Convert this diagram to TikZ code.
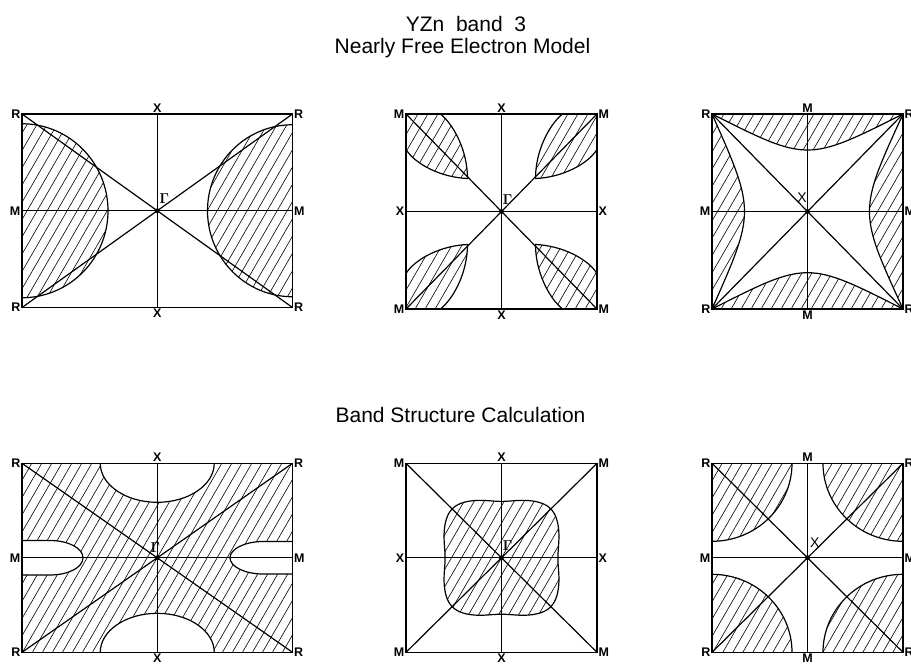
\documentclass[tikz,border=0pt]{standalone}
\usepackage[no-math]{fontspec}
\setmainfont{Liberation Sans}

% named corners, edge midpoints and centre of one zone panel
\newcommand{\bzcoords}[5]{%
  \coordinate (#1-nw) at (#2,#3);
  \coordinate (#1-ne) at (#4,#3);
  \coordinate (#1-sw) at (#2,#5);
  \coordinate (#1-se) at (#4,#5);
  \coordinate (#1-n) at ({(#2+#4)/2},#3);
  \coordinate (#1-s) at ({(#2+#4)/2},#5);
  \coordinate (#1-w) at (#2,{(#3+#5)/2});
  \coordinate (#1-e) at (#4,{(#3+#5)/2});
  \coordinate (#1-c) at ({(#2+#4)/2},{(#3+#5)/2});
}
% frame, cross and diagonals
\newcommand{\bzlines}[1]{%
  \draw[bzframe] (#1-nw) rectangle (#1-se);
  \draw[bzline] (#1-n) -- (#1-s);
  \draw[bzline] (#1-w) -- (#1-e);
  \draw[bzline] (#1-nw) -- (#1-se);
  \draw[bzline] (#1-ne) -- (#1-sw);
  \fill (#1-c) circle [radius=2.4pt];
}
% symmetry point labels
\newcommand{\bzlabels}[6]{%
  \node[bzlabel, anchor=east] (#1-lnw) at (#1-nw) {#2};
  \node[bzlabel, anchor=west] (#1-lne) at (#1-ne) {#2};
  \node[bzlabel, anchor=east] (#1-lsw) at (#1-sw) {#2};
  \node[bzlabel, anchor=west] (#1-lse) at (#1-se) {#2};
  \node[bzlabel, anchor=south] (#1-ln) at (#1-n) {#3};
  \node[bzlabel, anchor=north] (#1-ls) at (#1-s) {#3};
  \node[bzlabel, anchor=east] (#1-lw) at (#1-w) {#4};
  \node[bzlabel, anchor=west] (#1-le) at (#1-e) {#4};
  \node[bzmark, #6] (#1-lc) at (#1-c) {#5};
}
% 60 degree hatching inside a clip path
\newcommand{\hatchfill}[3]{%
  \begin{scope}
    \clip #3;
    \foreach \k in {-22,...,22}
      \draw[hatch] ({#1+10*\k-70},{#2+121}) -- ({#1+10*\k+70},{#2-121});
  \end{scope}
}
% one lens of the middle top panel
\newcommand{\bzlens}[2]{%
  ({501.5-95.5*(#1)},{211.5-97.5*(#2)}) -- ({501.5-61*(#1)},{211.5-97.5*(#2)})
  .. controls ({501.5-47*(#1)},{211.5-86*(#2)}) and ({501.5-34*(#1)},{211.5-60*(#2)})
  .. ({501.5-34*(#1)},{211.5-33*(#2)})
  .. controls ({501.5-60*(#1)},{211.5-34*(#2)}) and ({501.5-86*(#1)},{211.5-47*(#2)})
  .. ({501.5-95.5*(#1)},{211.5-62*(#2)}) -- cycle}

\begin{document}
\begin{tikzpicture}[x=1pt, y=-1pt,
    bzframe/.style={line width=1.5pt},
    bzline/.style={line width=1.2pt},
    bzcurve/.style={line width=1.2pt},
    hatch/.style={line width=0.6pt},
    bzlabel/.style={font=\fontsize{12.5}{12.5}\selectfont\bfseries, inner sep=1.5pt},
    bzmark/.style={font=\fontsize{14}{14}\selectfont, inner sep=0pt},
    title/.style={font=\fontsize{21}{21}\selectfont, inner sep=0pt},
    declare function={bzr(\t)=57/(abs(cos(\t))^5+abs(sin(\t))^5)^0.2*(1-0.01*cos(8*\t));}
]
    \useasboundingbox (0,0) rectangle (911,665);

    \node[title, anchor=base] (head) at (466,31.5) {YZn~~band~~3};
    \node[title, anchor=base] (nfe) at (462.5,53) {Nearly Free Electron Model};
    \node[title, anchor=base] (bsc) at (460.5,422.3) {Band Structure Calculation};

    \bzcoords{a}{22}{114}{292.5}{307.5}
    \bzcoords{b}{406}{114}{597}{309}
    \bzcoords{c}{712}{114}{903}{309}
    \bzcoords{d}{22}{463.3}{292.5}{652.3}
    \bzcoords{e}{406}{463.3}{597}{652.3}
    \bzcoords{f}{712}{463.3}{903}{652.3}

    % nearly free electron model
    \begin{scope}
        \clip (a-nw) rectangle (a-se);
        \hatchfill{157}{211}{(a-w) ellipse [x radius=86pt, y radius=87pt] (a-e) ellipse [x radius=85pt, y radius=86pt]}
        \draw[bzcurve] (a-w) ellipse [x radius=86pt, y radius=87pt] (a-e) ellipse [x radius=85pt, y radius=86pt];
    \end{scope}
    \bzlines{a}
    \bzlabels{a}{R}{X}{M}{$\mathbf{\Gamma}$}{anchor=south west, xshift=2pt, yshift=7pt}

    \foreach \sx/\sy in {1/1, -1/1, 1/-1, -1/-1} {
        \hatchfill{501.5}{211.5}{\bzlens{\sx}{\sy}}
        \draw[bzcurve] \bzlens{\sx}{\sy};
    }
    \bzlines{b}
    \bzlabels{b}{M}{X}{X}{$\mathbf{\Gamma}$}{anchor=south west, xshift=1pt, yshift=7pt}

    \hatchfill{807.5}{211.5}{(c-nw) rectangle (c-se)}
    \filldraw[bzcurve, fill=white] (c-nw) .. controls (807.5,162) .. (c-ne)
        .. controls (858.3,211.5) .. (c-se) .. controls (807.5,260.6) .. (c-sw)
        .. controls (755.3,211.5) .. cycle;
    \bzlines{c}
    \bzlabels{c}{R}{M}{M}{X}{anchor=south east, xshift=-0.5pt, yshift=9pt}

    % band structure calculation
    \hatchfill{157}{558}{(d-nw) rectangle (d-se)}
    \begin{scope}
        \clip (d-nw) rectangle (d-se);
        \filldraw[bzcurve, fill=white] (d-n) ellipse [x radius=57pt, y radius=39pt]
            (d-s) ellipse [x radius=57pt, y radius=39pt];
    \end{scope}
    \filldraw[bzcurve, fill=white] (22,540.5) -- (50,540.5)
        .. controls (68.2,540.5) and (83,548.1) .. (83,557.8)
        .. controls (83,567.5) and (68.2,575) .. (50,575) -- (22,575);
    \filldraw[bzcurve, fill=white] (292.5,541.5) -- (263,541.5)
        .. controls (244.8,541.5) and (230,549) .. (230,557.8)
        .. controls (230,566.6) and (244.8,574) .. (263,574) -- (292.5,574);
    \bzlines{d}
    \bzlabels{d}{R}{X}{M}{$\mathbf{\Gamma}$}{anchor=south, xshift=-2pt, yshift=5pt}

    \hatchfill{501.5}{557.8}{plot[domain=0:360, samples=145, smooth] ({501.5+bzr(\x)*cos(\x)},{557.8+bzr(\x)*sin(\x)}) -- cycle}
    \draw[bzcurve] plot[domain=0:360, samples=145, smooth] ({501.5+bzr(\x)*cos(\x)},{557.8+bzr(\x)*sin(\x)}) -- cycle;
    \bzlines{e}
    \bzlabels{e}{M}{X}{X}{$\mathbf{\Gamma}$}{anchor=south west, xshift=1pt, yshift=7pt}

    \begin{scope}
        \clip (f-nw) rectangle (f-se);
        \hatchfill{807.5}{557.8}{(f-nw) ellipse [x radius=80pt, y radius=78pt] (f-ne) ellipse [x radius=80pt, y radius=78pt] (f-sw) ellipse [x radius=80pt, y radius=78pt] (f-se) ellipse [x radius=80pt, y radius=78pt]}
        \draw[bzcurve] (f-nw) ellipse [x radius=80pt, y radius=78pt] (f-ne) ellipse [x radius=80pt, y radius=78pt]
            (f-sw) ellipse [x radius=80pt, y radius=78pt] (f-se) ellipse [x radius=80pt, y radius=78pt];
    \end{scope}
    \bzlines{f}
    \bzlabels{f}{R}{M}{M}{X}{anchor=south west, xshift=2.3pt, yshift=10pt}
\end{tikzpicture}
\end{document}
